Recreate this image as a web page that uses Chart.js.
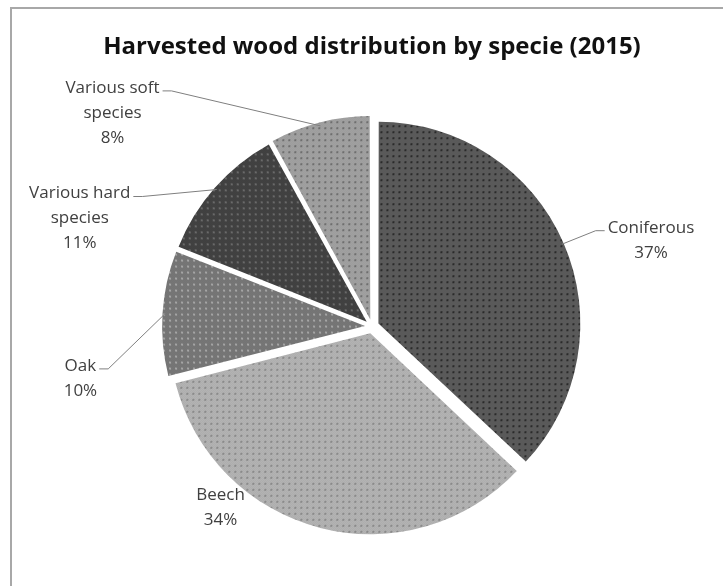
<!DOCTYPE html>
<html>
<head>
<meta charset="utf-8">
<title>Harvested wood distribution by specie (2015)</title>
<script src="https://cdn.jsdelivr.net/npm/chart.js@4.4.1/dist/chart.umd.min.js"></script>
<style>
  html, body { margin: 0; padding: 0; background: #fff; }
  #wrap { position: relative; width: 723px; height: 586px; overflow: hidden; }
  #frame {
    position: absolute; left: 10px; top: 7px; width: 740px; height: 600px;
    border-left: 2px solid #a8a8a8; border-top: 2px solid #a8a8a8;
  }
  canvas { position: absolute; left: 0; top: 0; }
</style>
</head>
<body>
<div id="wrap">
  <div id="frame"></div>
  <canvas id="woodChart" width="723" height="586"></canvas>
</div>
<script>
// Data (clockwise from 12 o'clock)
const categories = ['Coniferous', 'Beech', 'Oak', ['Various hard', 'species'], ['Various soft', 'species']];
const shares = [37, 34, 10, 11, 8];

// grey halftone textures, like the Excel pattern fills
function makePattern(base, fine, dot) {
  const c = document.createElement('canvas');
  c.width = 6; c.height = 6;
  const g = c.getContext('2d');
  g.fillStyle = base;
  g.fillRect(0, 0, 6, 6);
  g.fillStyle = fine;
  for (let y = 0; y < 6; y++) {
    for (let x = y % 2; x < 6; x += 2) g.fillRect(x, y, 1, 1);
  }
  g.fillStyle = dot;
  g.fillRect(2, 2, 2, 2);
  return g.createPattern(c, 'repeat');
}

const fills = [
  makePattern('#626262', '#525252', '#2a2a2a'), // Coniferous
  makePattern('#bababa', '#a8a8a8', '#8a8a8a'), // Beech
  makePattern('#7d7d7d', '#6e6e6e', '#a5a5a5'), // Oak
  makePattern('#484848', '#3a3a3a', '#6a6a6a'), // Various hard
  makePattern('#a6a6a6', '#989898', '#6e6e6e')  // Various soft
];

// label block centre, relative to the outer middle of each slice
const labelShift = [[89, -4], [-100, -19], [-85, 65], [-137, 29], [-208, -13]];
const hasLeader = [true, false, true, true, true];

const leaderLabels = {
  id: 'leaderLabels',
  afterDatasetsDraw(chart, args, opts) {
    const ctx = chart.ctx;
    const meta = chart.getDatasetMeta(0);
    const lh = opts.lineHeight;
    ctx.save();
    ctx.font = opts.font;
    ctx.textAlign = 'center';
    ctx.textBaseline = 'middle';
    meta.data.forEach((arc, i) => {
      const p = arc.getProps(['x', 'y', 'startAngle', 'endAngle', 'outerRadius'], true);
      const mid = (p.startAngle + p.endAngle) / 2;
      // chart.js shifts an arc by offset / 4
      const r = p.outerRadius + (arc.options.offset || 0) / 4;
      const px = p.x + Math.cos(mid) * r;
      const py = p.y + Math.sin(mid) * r;

      const name = chart.data.labels[i];
      const lines = (Array.isArray(name) ? name : [name]).concat(shares[i] + '%');
      const bx = px + labelShift[i][0];
      const by = py + labelShift[i][1];
      const y0 = by - (lines.length - 1) * lh / 2;

      ctx.fillStyle = opts.color;
      lines.forEach((t, k) => ctx.fillText(t, bx, y0 + k * lh));

      if (hasLeader[i]) {
        const w = ctx.measureText(lines[0]).width;
        const dir = bx < px ? 1 : -1;
        const sx = bx + dir * (w / 2 + 3);
        const ex = sx + dir * 9;
        const ly = y0 + 3;
        ctx.strokeStyle = opts.lineColor;
        ctx.lineWidth = 1;
        ctx.beginPath();
        ctx.moveTo(sx, ly);
        ctx.lineTo(ex, ly);
        ctx.lineTo(px, py);
        ctx.stroke();
      }
    });
    ctx.restore();
  }
};

const ctx = document.getElementById('woodChart').getContext('2d');
const chart = new Chart(ctx, {
  type: 'pie',
  data: {
    labels: categories,
    datasets: [{
      data: shares,
      backgroundColor: fills,
      borderWidth: 0,
      offset: 28
    }]
  },
  options: {
    responsive: false,
    animation: false,
    radius: 200,
    layout: { padding: { left: 21, right: 0, top: 0, bottom: 5 } },
    plugins: {
      legend: { display: false },
      tooltip: { enabled: false },
      title: {
        display: true,
        text: 'Harvested wood distribution by specie (2015)',
        color: '#111111',
        font: { family: 'Open Sans', size: 24, weight: 'bold' },
        padding: { top: 33, bottom: 10 }
      },
      leaderLabels: {
        font: '17px "Open Sans"',
        color: '#404040',
        lineColor: '#7f7f7f',
        lineHeight: 25
      }
    }
  },
  plugins: [leaderLabels]
});
</script>
</body>
</html>
